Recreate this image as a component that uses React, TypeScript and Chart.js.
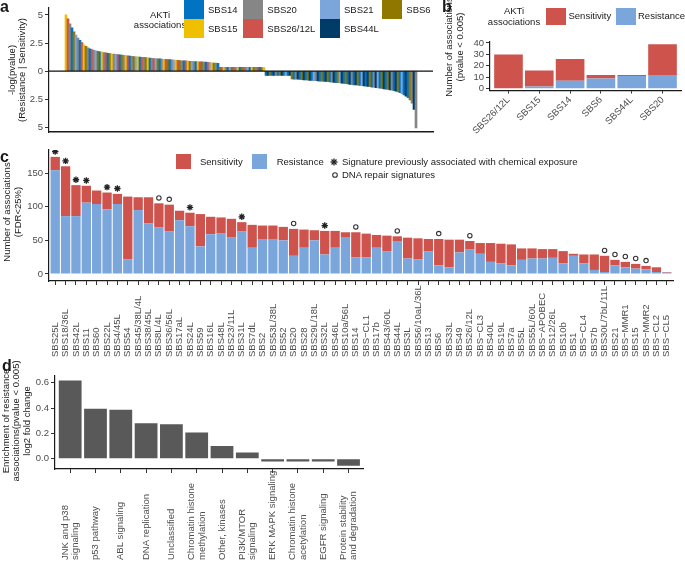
import React, { useEffect, useRef } from 'react';
import { Chart, registerables } from 'chart.js';

Chart.register(...registerables);

const FONT = '"Liberation Sans", Arial, Helvetica, sans-serif';
Chart.defaults.font.family = FONT;

const RED = '#CD534C';
const BLUE = '#7AA6DC';
const TEXT = '#1a1a1a';
const TICK_TEXT = '#4d4d4d';
const AXIS = '#1a1a1a';

// ---------------- panel a ----------------
const aSignatures = ['SBS14', 'SBS15', 'SBS20', 'SBS21', 'SBS26/12L', 'SBS44L', 'SBS6'];
const aSignatureColors = ['#0073C2', '#EFC000', '#868686', '#7AA6DC', '#CD534C', '#003C67', '#8F7700'];
const aSignatureCodes = 'ABCDEFG';
const aYTicks = [-5, -2.5, 0, 2.5, 5];
const aSensitivity = [
  5.0, 4.65, 4.2, 3.85, 3.5, 3.2, 2.95, 2.75, 2.55, 2.35,
  2.2, 2.07, 1.98, 1.92, 1.86, 1.81, 1.77, 1.73, 1.69, 1.65,
  1.62, 1.59, 1.56, 1.53, 1.51, 1.49, 1.47, 1.45, 1.42, 1.4,
  1.38, 1.36, 1.34, 1.32, 1.3, 1.28, 1.27, 1.25, 1.24, 1.22,
  1.2, 1.19, 1.17, 1.15, 1.13, 1.12, 1.1, 1.09, 1.08, 1.06,
  1.05, 1.03, 1.02, 1.0, 0.99, 0.97, 0.96, 0.95, 0.93, 0.92,
  0.91, 0.89, 0.88, 0.87, 0.86, 0.85, 0.84, 0.83, 0.82, 0.81,
  0.8, 0.78, 0.76, 0.75, 0.73, 0.71, 0.69,
  0.35, 0.35, 0.35, 0.34, 0.34, 0.34, 0.34, 0.34, 0.34, 0.34,
  0.34, 0.34, 0.34, 0.34, 0.34, 0.34, 0.34, 0.34, 0.34, 0.34,
  0.34, 0.33, 0.33,
];
const aSensitivitySignature = [
  'BECAGDCAEB', 'GCAECDGABC', 'EAGBCDEAGC', 'BEACGDBAEC', 'GBACEDGACB',
  'EGACDBEGCA', 'EBGDCABEGC', 'AEDBGCAGEB', 'CADGECBAGE', 'CDABGCEAGB',
].join('');
const aResistance = [
  0.37, 0.37, 0.37, 0.37, 0.37, 0.37, 0.37, 0.37, 0.37, 0.37, 0.37, 0.37, 0.37,
  0.68, 0.7, 0.71, 0.72, 0.74, 0.75, 0.77, 0.78, 0.8, 0.81,
  0.83, 0.84, 0.85, 0.86, 0.88, 0.89, 0.91, 0.92, 0.94, 0.95,
  0.97, 0.99, 1.01, 1.03, 1.05, 1.07, 1.09, 1.12, 1.14, 1.17,
  1.19, 1.21, 1.23, 1.25, 1.27, 1.29, 1.31, 1.33, 1.35, 1.38,
  1.41, 1.43, 1.46, 1.49, 1.51, 1.54, 1.57, 1.6, 1.63, 1.66,
  1.69, 1.73, 1.78, 1.84, 1.91, 2.0, 2.1, 2.22, 2.35, 2.55,
  2.85, 3.4, 5.05,
];
const aResistanceSignature = [
  'AFGAFCAGFA', 'DAFGACFAGF', 'AGFADCFAGA', 'FGACFAGDFA', 'GAFCAFGADF',
  'AFGACFDAGF', 'AGFCAFGADA', 'FAGCFC',
].join('');

// ---------------- panel b ----------------
const bLabels = ['SBS26/12L', 'SBS15', 'SBS14', 'SBS6', 'SBS44L', 'SBS20'];
const bSensitivity = [30, 14, 19, 3, 1, 27];
const bResistance = [0, 2, 7, 9, 11, 12];
const bYTicks = [0, 10, 20, 30, 40];

// ---------------- panel c ----------------
const cLabels = [
  'SBS25L', 'SBS18/36L', 'SBS42L', 'SBS11', 'SBS60', 'SBS22L', 'SBS4/45L', 'SBS54', 'SBS45/38L/4L', 'SBS38/45L',
  'SBS8L/4L', 'SBS36/56L', 'SBS17aL', 'SBS24L', 'SBS59', 'SBS16L', 'SBS48L', 'SBS23/11L', 'SBS31L', 'SBS7dL',
  'SBS2', 'SBS53L/38L', 'SBS52', 'SBS20', 'SBS28', 'SBS29L/18L', 'SBS32L', 'SBS46L', 'SBS10a/56L', 'SBS14',
  'SBS\u2212CL1', 'SBS17b', 'SBS43/60L', 'SBS44L', 'SBS3L', 'SBS56/10aL/36L', 'SBS13', 'SBS6', 'SBS33L', 'SBS49',
  'SBS26/12L', 'SBS\u2212CL3', 'SBS40L', 'SBS19L', 'SBS7a', 'SBS5L', 'SBS55L/60L', 'SBS\u2212APOBEC', 'SBS12/26L', 'SBS10b',
  'SBS1', 'SBS\u2212CL4', 'SBS7b', 'SBS30L/7bL/11L', 'SBS21', 'SBS\u2212MMR1', 'SBS15', 'SBS\u2212MMR2', 'SBS\u2212CL2', 'SBS\u2212CL5',
];
const cResistance = [
  154, 86, 86, 106, 104, 96, 104, 22, 95, 75,
  69, 63, 80, 71, 41, 59, 60, 54, 63, 39,
  51, 51, 50, 27, 39, 50, 29, 39, 55, 25,
  25, 39, 34, 48, 23, 22, 34, 13, 10, 32,
  37, 30, 18, 16, 13, 21, 23, 23, 24, 16,
  27, 16, 6, 3, 13, 10, 8, 7, 3, 2,
];
const cSensitivity = [
  20, 74, 46, 25, 20, 25, 15, 93, 19, 39,
  36, 40, 14, 20, 48, 26, 24, 28, 14, 34,
  21, 21, 20, 40, 27, 15, 35, 25, 7, 37,
  35, 19, 23, 8, 31, 31, 18, 39, 41, 19,
  12, 16, 28, 29, 31, 17, 15, 14, 13, 18,
  3, 13, 23, 24, 8, 8, 7, 5, 7, 1,
];
const cChemical = ['SBS25L', 'SBS18/36L', 'SBS42L', 'SBS11', 'SBS22L', 'SBS4/45L', 'SBS24L', 'SBS31L', 'SBS32L'];
const cDnaRepair = [
  'SBS8L/4L', 'SBS36/56L', 'SBS20', 'SBS14', 'SBS44L', 'SBS6', 'SBS26/12L',
  'SBS30L/7bL/11L', 'SBS21', 'SBS\u2212MMR1', 'SBS15', 'SBS\u2212MMR2',
];
const cYTicks = [0, 50, 100, 150];

// ---------------- panel d ----------------
const dLabels = [
  'JNK and p38\nsignaling', 'p53 pathway', 'ABL signaling', 'DNA replication', 'Unclassified',
  'Chromatin histone\nmethylation', 'Other, kinases', 'PI3K/MTOR\nsignaling', 'ERK MAPK signaling',
  'Chromatin histone\nacetylation', 'EGFR signaling', 'Protein stability\nand degradation',
];
const dValues = [0.617, 0.395, 0.387, 0.28, 0.272, 0.207, 0.1, 0.05, -0.022, -0.022, -0.022, -0.055];
const dYTicks = [0, 0.2, 0.4, 0.6];

// ---------------- helpers ----------------
const zeroLinePlugin = {
  id: 'zeroLine',
  afterDatasetsDraw(chart: any) {
    const { ctx, chartArea } = chart;
    const y = chart.scales.y.getPixelForValue(0);
    ctx.save();
    ctx.strokeStyle = '#111';
    ctx.lineWidth = 1.3;
    ctx.beginPath();
    ctx.moveTo(chartArea.left, y);
    ctx.lineTo(chartArea.right, y);
    ctx.stroke();
    ctx.restore();
  },
};

function makeVLabels(labels: string[], bottom: number, lineGap: number, size: number) {
  return {
    id: 'vLabels',
    afterDraw(chart: any) {
      const xs = chart.scales.x;
      const ctx = chart.ctx;
      ctx.save();
      ctx.font = `${size}px ${FONT}`;
      ctx.fillStyle = TICK_TEXT;
      ctx.textAlign = 'left';
      ctx.textBaseline = 'middle';
      labels.forEach((lab, i) => {
        const lines = lab.split('\n');
        const x = xs.getPixelForValue(i);
        lines.forEach((ln, j) => {
          ctx.save();
          ctx.translate(x + (j - (lines.length - 1) / 2) * lineGap, bottom);
          ctx.rotate(-Math.PI / 2);
          ctx.fillText(ln, 0, 0);
          ctx.restore();
        });
      });
      ctx.restore();
    },
  };
}

const tickFont = { size: 9.5, family: FONT };

function yAxis(min: number, max: number, ticks: number[], width: number, cb: (v: number) => string, stacked = false) {
  return {
    stacked,
    min,
    max,
    afterBuildTicks: (s: any) => {
      s.ticks = ticks.map((v) => ({ value: v }));
    },
    afterFit: (s: any) => {
      s.width = width;
    },
    ticks: { autoSkip: false, callback: (v: any) => cb(Number(v)), font: tickFont, color: TICK_TEXT, padding: 2 },
    grid: { display: true, drawOnChartArea: false, drawTicks: true, tickLength: 4, color: '#333', lineWidth: 1 },
    border: { display: true, color: AXIS, width: 1.2 },
  };
}

function Txt(props: { x: number; y: number; children: any; size?: number; align?: 'left' | 'center'; bold?: boolean; lh?: number }) {
  const { x, y, children, size = 9.5, align = 'left', bold = false, lh } = props;
  return (
    <div
      style={{
        position: 'absolute',
        left: x,
        top: y,
        transform: `translate(${align === 'center' ? '-50%' : '0'}, -50%)`,
        whiteSpace: 'pre',
        fontSize: size,
        fontWeight: bold ? 700 : 400,
        lineHeight: lh ? `${lh}px` : 1.15,
        textAlign: align,
        color: TEXT,
        fontFamily: FONT,
      }}
    >
      {children}
    </div>
  );
}

function VTxt(props: { cx: number; cy: number; lines: string[]; lh: number; size?: number }) {
  const { cx, cy, lines, lh, size = 9.5 } = props;
  return (
    <div
      style={{
        position: 'absolute',
        left: cx,
        top: cy,
        transform: 'translate(-50%, -50%) rotate(-90deg)',
        whiteSpace: 'pre',
        fontSize: size,
        lineHeight: `${lh}px`,
        textAlign: 'center',
        color: TEXT,
        fontFamily: FONT,
      }}
    >
      {lines.join('\n')}
    </div>
  );
}

function Box(props: { x: number; y: number; w: number; h: number; c: string }) {
  return <div style={{ position: 'absolute', left: props.x, top: props.y, width: props.w, height: props.h, background: props.c }} />;
}

function xIndexAxis(n: number, height: number, showTicks: boolean, extra: any = {}) {
  return {
    type: 'linear',
    offset: false,
    min: -0.6,
    max: n - 0.4,
    afterBuildTicks: (s: any) => {
      s.ticks = Array.from({ length: n }, (_, i) => ({ value: i }));
    },
    afterFit: (s: any) => {
      s.height = height;
    },
    grid: { display: true, offset: false, drawOnChartArea: false, drawTicks: true, tickLength: 4, color: '#333' },
    border: { display: true, color: AXIS, width: 1.2 },
    ticks: { display: showTicks, autoSkip: false },
    ...extra,
  };
}

export default function App() {
  const aRef = useRef<HTMLCanvasElement>(null);
  const bRef = useRef<HTMLCanvasElement>(null);
  const cRef = useRef<HTMLCanvasElement>(null);
  const dRef = useRef<HTMLCanvasElement>(null);

  useEffect(() => {
    const charts: Chart[] = [];

    // ----- a -----
    const aData = [
      ...aSensitivity.map((v, i) => ({ x: i, y: v })),
      ...aResistance.map((v, i) => ({ x: aSensitivity.length + i, y: -v })),
    ];
    const aColors = (aSensitivitySignature + aResistanceSignature)
      .split('')
      .map((ch) => aSignatureColors[aSignatureCodes.indexOf(ch)] || '#999');
    charts.push(
      new Chart(aRef.current as HTMLCanvasElement, {
        type: 'bar',
        data: {
          datasets: [
            { data: aData as any, backgroundColor: aColors, barPercentage: 1, categoryPercentage: 1, borderWidth: 0 },
          ],
        },
        options: {
          responsive: false,
          animation: false,
          layout: { padding: { left: 0, right: 7, top: 5, bottom: 6 } },
          plugins: { legend: { display: false }, tooltip: { enabled: false } },
          scales: {
            x: {
              type: 'linear',
              offset: false,
              min: -8.5,
              max: aData.length + 7.5,
              ticks: { display: false },
              grid: { display: false, offset: false, drawTicks: false },
              border: { display: true, color: AXIS, width: 1.6 },
              afterFit: (s: any) => {
                s.height = 0;
              },
            } as any,
            y: yAxis(-5.43, 5.64, aYTicks, 49, (v) => String(Math.abs(v))) as any,
          },
        },
        plugins: [zeroLinePlugin],
      })
    );

    // ----- b -----
    charts.push(
      new Chart(bRef.current as HTMLCanvasElement, {
        type: 'bar',
        data: {
          datasets: [
            {
              label: 'Resistance',
              data: bResistance.map((v, i) => ({ x: i, y: v })) as any,
              backgroundColor: BLUE,
              barPercentage: 0.93,
              categoryPercentage: 1,
            },
            {
              label: 'Sensitivity',
              data: bSensitivity.map((v, i) => ({ x: i, y: v })) as any,
              backgroundColor: RED,
              barPercentage: 0.93,
              categoryPercentage: 1,
            },
          ],
        },
        options: {
          responsive: false,
          animation: false,
          layout: { padding: { left: 0, right: 4, top: 41.5, bottom: 0 } },
          plugins: { legend: { display: false }, tooltip: { enabled: false } },
          scales: {
            x: xIndexAxis(bLabels.length, 49.5, true, {
              stacked: true,
              grid: { display: true, offset: false, drawOnChartArea: false, drawTicks: true, tickLength: 3, color: '#333' },
              ticks: {
                autoSkip: false,
                minRotation: 45,
                maxRotation: 45,
                padding: 1,
                font: tickFont,
                color: TICK_TEXT,
                callback: (v: any) => bLabels[Math.round(Number(v))] || '',
              },
            }) as any,
            y: yAxis(-1.58, 41.3, bYTicks, 50, (v) => String(v), true) as any,
          },
        },
      })
    );

    // ----- c -----
    const cTotals = cResistance.map((r, i) => r + cSensitivity[i]);
    const cMarkerGap = 8;
    const chemPts = cLabels
      .map((l, i) => (cChemical.includes(l) ? { x: i, y: cTotals[i] + cMarkerGap } : null))
      .filter(Boolean);
    const repairPts = cLabels
      .map((l, i) => (cDnaRepair.includes(l) ? { x: i, y: cTotals[i] + cMarkerGap } : null))
      .filter(Boolean);
    charts.push(
      new Chart(cRef.current as HTMLCanvasElement, {
        type: 'bar',
        data: {
          datasets: [
            {
              type: 'bar',
              label: 'Resistance',
              data: cResistance.map((v, i) => ({ x: i, y: v })) as any,
              backgroundColor: BLUE,
              barPercentage: 0.9,
              categoryPercentage: 1,
            },
            {
              type: 'bar',
              label: 'Sensitivity',
              data: cSensitivity.map((v, i) => ({ x: i, y: v })) as any,
              backgroundColor: RED,
              barPercentage: 0.9,
              categoryPercentage: 1,
            },
            {
              type: 'scatter',
              stack: 'chemical',
              data: chemPts as any,
              pointStyle: 'star',
              radius: 3.2,
              borderColor: '#222',
              backgroundColor: '#222',
              borderWidth: 1.3,
            } as any,
            {
              type: 'scatter',
              stack: 'repair',
              data: repairPts as any,
              pointStyle: 'circle',
              radius: 2.2,
              borderColor: '#333',
              backgroundColor: '#fff',
              borderWidth: 1.1,
            } as any,
          ],
        },
        options: {
          responsive: false,
          animation: false,
          layout: { padding: { left: 0, right: 12, top: 10, bottom: 0 } },
          plugins: { legend: { display: false }, tooltip: { enabled: false } },
          scales: {
            x: xIndexAxis(cLabels.length, 84, false, { stacked: true }) as any,
            y: yAxis(-10.4, 184.2, cYTicks, 49, (v) => String(v), true) as any,
          },
        },
        plugins: [makeVLabels(cLabels, 217, 10, 9.5)],
      })
    );

    // ----- d -----
    charts.push(
      new Chart(dRef.current as HTMLCanvasElement, {
        type: 'bar',
        data: {
          datasets: [
            {
              data: dValues.map((v, i) => ({ x: i, y: v })) as any,
              backgroundColor: '#595959',
              barPercentage: 0.9,
              categoryPercentage: 1,
            },
          ],
        },
        options: {
          responsive: false,
          animation: false,
          layout: { padding: { left: 0, right: 8.3, top: 7, bottom: 0 } },
          plugins: { legend: { display: false }, tooltip: { enabled: false } },
          scales: {
            x: xIndexAxis(dLabels.length, 97, false) as any,
            y: yAxis(-0.0806, 0.655, dYTicks, 55, (v) => v.toFixed(1)) as any,
          },
        },
        plugins: [makeVLabels(dLabels, 192, 10.5, 9.5)],
      })
    );

    return () => charts.forEach((c) => c.destroy());
  }, []);

  const aLegendCols = [184, 243.3, 320, 382.3];
  const aLegendRows = [0, 19.3];
  const aLegendOrder = [0, 1, 2, 4, 3, 5, 6];

  return (
    <div
      style={{
        position: 'absolute',
        left: 0,
        top: 0,
        width: 685,
        height: 566,
        background: '#fff',
        overflow: 'hidden',
        fontFamily: FONT,
      }}
    >
      <canvas ref={aRef} width={440} height={140} style={{ position: 'absolute', left: 0, top: 0, width: 440, height: 140 }} />
      <canvas ref={bRef} width={245} height={140} style={{ position: 'absolute', left: 440, top: 0, width: 245, height: 140 }} />
      <canvas ref={cRef} width={685} height={225} style={{ position: 'absolute', left: 0, top: 140, width: 685, height: 225 }} />
      <canvas ref={dRef} width={372} height={198} style={{ position: 'absolute', left: 0, top: 368, width: 372, height: 198 }} />

      {/* panel labels */}
      <Txt x={0} y={7} size={16} bold lh={16}>a</Txt>
      <Txt x={442} y={7} size={16} bold lh={16}>b</Txt>
      <Txt x={0} y={157} size={16} bold lh={16}>c</Txt>
      <Txt x={2} y={366} size={16} bold lh={16}>d</Txt>

      {/* axis titles */}
      <VTxt cx={17} cy={70} lh={10} lines={['-log(pvalue)', '(Resistance | Sensitivity)']} />
      <VTxt cx={453.5} cy={47} lh={11} lines={['Number of associations', '(pvalue < 0.005)']} />
      <VTxt cx={11.5} cy={212} lh={11} lines={['Number of associations', '(FDR<25%)']} />
      <VTxt cx={16.5} cy={421} lh={10.4} lines={['Enrichment of resistance', 'associations(pvalue < 0.005)', 'log2 fold change']} />

      {/* legend a */}
      <Txt x={160} y={19.5} align="center" lh={10.5}>{'AKTi\nassociations'}</Txt>
      {aLegendOrder.map((k, i) => {
        const col = i < 2 ? 0 : i < 4 ? 1 : i < 6 ? 2 : 3;
        const row = i < 6 ? i % 2 : 0;
        const x = aLegendCols[col];
        const y = aLegendRows[row];
        return (
          <React.Fragment key={aSignatures[k]}>
            <Box x={x} y={y} w={19.5} h={18.6} c={aSignatureColors[k]} />
            <Txt x={x + 24} y={y + 10}>{aSignatures[k]}</Txt>
          </React.Fragment>
        );
      })}

      {/* legend b */}
      <Txt x={514} y={16} align="center" lh={10.5}>{'AKTi\nassociations'}</Txt>
      <Box x={546} y={8} w={20} h={17} c={RED} />
      <Txt x={568.5} y={16}>Sensitivity</Txt>
      <Box x={615.5} y={8} w={20} h={17} c={BLUE} />
      <Txt x={638} y={16}>Resistance</Txt>

      {/* legend c */}
      <Box x={176} y={154} w={15} h={15.3} c={RED} />
      <Txt x={200} y={162}>Sensitivity</Txt>
      <Box x={252.3} y={154} w={15} h={15.3} c={BLUE} />
      <Txt x={276.7} y={162}>Resistance</Txt>
      <svg style={{ position: 'absolute', left: 330, top: 157.5 }} width={8} height={8} viewBox="0 0 8 8">
        <g stroke="#222" strokeWidth={1.3}>
          <line x1={4} y1={0.5} x2={4} y2={7.5} />
          <line x1={0.5} y1={4} x2={7.5} y2={4} />
          <line x1={1.5} y1={1.5} x2={6.5} y2={6.5} />
          <line x1={6.5} y1={1.5} x2={1.5} y2={6.5} />
        </g>
      </svg>
      <Txt x={342} y={162}>Signature previously associated with chemical exposure</Txt>
      <svg style={{ position: 'absolute', left: 331, top: 171 }} width={8} height={8} viewBox="0 0 8 8">
        <circle cx={4} cy={4} r={2.3} stroke="#333" strokeWidth={1.1} fill="#fff" />
      </svg>
      <Txt x={342} y={175}>DNA repair signatures</Txt>
    </div>
  );
}
